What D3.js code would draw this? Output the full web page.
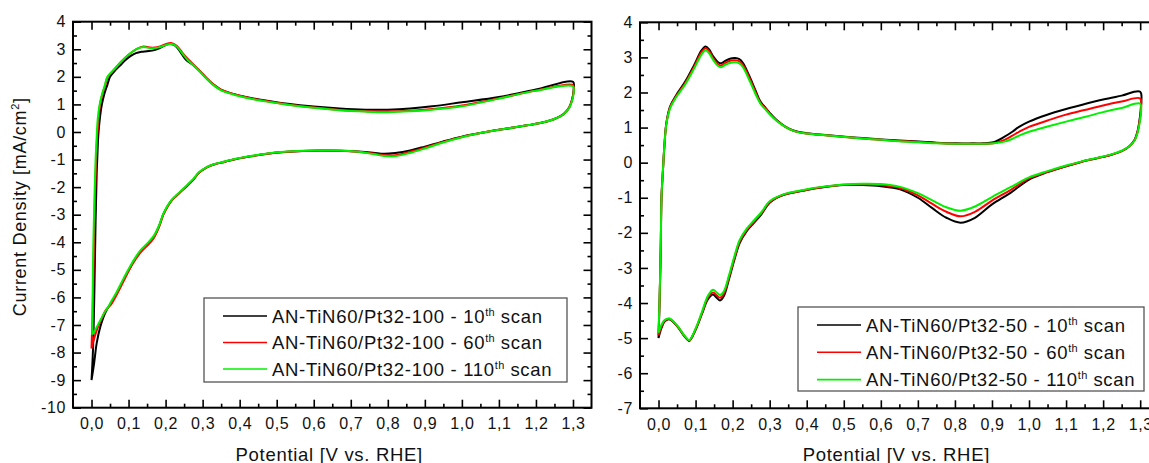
<!DOCTYPE html>
<html>
<head>
<meta charset="utf-8">
<script src="https://cdn.jsdelivr.net/npm/d3@7"></script>
<style>
  html, body { margin: 0; padding: 0; background: #fff; }
  svg { display: block; font-family: "Liberation Sans", Arial, sans-serif; }
</style>
</head>
<body>
<svg id="chart" width="1149" height="463"></svg>
<script>
// ---- Cyclic voltammograms: potential [V vs. RHE], current density [mA/cm2] ----
const xTicksMajor = [0, 0.1, 0.2, 0.3, 0.4, 0.5, 0.6, 0.7, 0.8, 0.9, 1.0, 1.1, 1.2, 1.3];
const xTicksMinor = [0.05, 0.15, 0.25, 0.35, 0.45, 0.55, 0.65, 0.75, 0.85, 0.95, 1.05, 1.15, 1.25];
const yTicksLeft = [-10, -9, -8, -7, -6, -5, -4, -3, -2, -1, 0, 1, 2, 3, 4];
const yTicksRight = [-7, -6, -5, -4, -3, -2, -1, 0, 1, 2, 3, 4];
const scanLabels = ["10", "60", "110"];
const seriesColors = ["#000000", "#ff0000", "#00f000"];

// AN-TiN60/Pt32-100
const pt100_scan10 = [
  [0.000,-9.0],[0.004,-7.9],[0.008,-5.6],[0.011,-3.2],[0.014,-1.5],[0.017,-0.45],[0.019,0.0],[0.023,0.55],
  [0.028,1.0],[0.035,1.4],[0.043,1.72],[0.050,2.0],[0.065,2.25],[0.080,2.45],[0.091,2.6],[0.105,2.75],
  [0.120,2.86],[0.135,2.91],[0.150,2.93],[0.170,2.97],[0.190,3.08],[0.210,3.2],[0.225,3.14],[0.240,2.9],
  [0.255,2.62],[0.275,2.42],[0.294,2.18],[0.310,1.95],[0.330,1.71],[0.350,1.53],[0.380,1.39],[0.420,1.26],
  [0.470,1.14],[0.530,1.02],[0.600,0.92],[0.670,0.85],[0.740,0.81],[0.800,0.81],[0.860,0.85],[0.920,0.93],
  [1.000,1.08],[1.100,1.27],[1.200,1.54],[1.300,1.82],
  [1.302,1.55],[1.298,1.2],[1.290,0.9],[1.275,0.65],[1.250,0.47],[1.220,0.35],[1.180,0.25],[1.140,0.16],
  [1.100,0.08],[1.050,-0.04],[1.000,-0.17],[0.950,-0.34],[0.900,-0.53],[0.860,-0.67],[0.820,-0.76],
  [0.790,-0.79],[0.760,-0.75],[0.720,-0.71],[0.670,-0.68],[0.620,-0.67],[0.570,-0.69],[0.520,-0.73],
  [0.470,-0.8],[0.430,-0.88],[0.390,-0.98],[0.360,-1.08],[0.330,-1.18],[0.310,-1.29],[0.290,-1.48],
  [0.275,-1.73],[0.260,-1.93],[0.246,-2.1],[0.230,-2.3],[0.217,-2.46],[0.205,-2.7],[0.194,-2.98],
  [0.182,-3.42],[0.168,-3.8],[0.150,-4.08],[0.135,-4.28],[0.120,-4.55],[0.101,-5.0],[0.087,-5.36],
  [0.068,-5.85],[0.053,-6.2],[0.039,-6.5],[0.024,-7.05],[0.014,-7.66],[0.007,-8.39],[0.000,-9.0]
];
const pt100_scan60 = [
  [0.000,-7.85],[0.003,-6.5],[0.006,-4.5],[0.009,-2.5],[0.012,-1.2],[0.015,-0.2],[0.017,0.15],[0.020,0.6],
  [0.023,1.0],[0.030,1.4],[0.037,1.7],[0.044,2.0],[0.060,2.25],[0.080,2.55],[0.100,2.8],[0.120,3.0],
  [0.140,3.1],[0.160,3.06],[0.180,3.08],[0.200,3.18],[0.215,3.23],[0.230,3.13],[0.245,2.88],[0.260,2.65],
  [0.275,2.45],[0.294,2.2],[0.310,1.97],[0.330,1.72],[0.350,1.54],[0.380,1.39],[0.420,1.25],[0.470,1.12],
  [0.530,1.0],[0.600,0.89],[0.670,0.8],[0.740,0.75],[0.800,0.74],[0.860,0.77],[0.920,0.83],[1.000,0.96],
  [1.100,1.22],[1.200,1.5],[1.300,1.7],
  [1.302,1.5],[1.298,1.2],[1.290,0.9],[1.275,0.65],[1.250,0.47],[1.220,0.35],[1.180,0.25],[1.140,0.16],
  [1.100,0.08],[1.050,-0.04],[1.000,-0.18],[0.950,-0.36],[0.900,-0.57],[0.860,-0.72],[0.820,-0.84],
  [0.790,-0.84],[0.760,-0.78],[0.720,-0.72],[0.670,-0.68],[0.620,-0.67],[0.570,-0.69],[0.520,-0.73],
  [0.470,-0.8],[0.430,-0.88],[0.390,-0.98],[0.360,-1.08],[0.330,-1.18],[0.310,-1.29],[0.290,-1.48],
  [0.275,-1.72],[0.260,-1.92],[0.246,-2.1],[0.230,-2.3],[0.217,-2.48],[0.205,-2.72],[0.194,-3.0],
  [0.182,-3.46],[0.168,-3.85],[0.150,-4.13],[0.135,-4.33],[0.120,-4.6],[0.101,-5.02],[0.087,-5.4],
  [0.068,-5.9],[0.053,-6.25],[0.039,-6.45],[0.028,-6.75],[0.018,-7.05],[0.008,-7.45],[0.000,-7.85]
];
const pt100_scan110 = [
  [0.002,-7.35],[0.003,-6.0],[0.005,-4.0],[0.008,-2.3],[0.011,-1.0],[0.0145,0.0],[0.017,0.5],[0.022,1.0],
  [0.028,1.35],[0.035,1.65],[0.043,2.0],[0.060,2.25],[0.080,2.55],[0.100,2.8],[0.120,3.0],[0.140,3.08],
  [0.160,3.04],[0.180,3.06],[0.200,3.15],[0.215,3.19],[0.230,3.1],[0.245,2.85],[0.260,2.6],[0.275,2.42],
  [0.294,2.17],[0.310,1.94],[0.330,1.69],[0.350,1.51],[0.380,1.37],[0.420,1.23],[0.470,1.11],[0.530,0.99],
  [0.600,0.88],[0.670,0.79],[0.740,0.74],[0.800,0.72],[0.860,0.75],[0.920,0.81],[1.000,0.93],[1.100,1.21],
  [1.200,1.5],[1.300,1.66],
  [1.302,1.45],[1.298,1.15],[1.290,0.88],[1.275,0.64],[1.250,0.47],[1.220,0.35],[1.180,0.25],[1.140,0.16],
  [1.100,0.08],[1.050,-0.04],[1.000,-0.19],[0.950,-0.38],[0.900,-0.6],[0.860,-0.76],[0.820,-0.88],
  [0.790,-0.87],[0.760,-0.8],[0.720,-0.72],[0.670,-0.67],[0.620,-0.66],[0.570,-0.68],[0.520,-0.72],
  [0.470,-0.79],[0.430,-0.87],[0.390,-0.97],[0.360,-1.07],[0.330,-1.17],[0.310,-1.28],[0.290,-1.46],
  [0.275,-1.7],[0.260,-1.9],[0.246,-2.08],[0.230,-2.28],[0.217,-2.45],[0.205,-2.68],[0.194,-2.96],
  [0.182,-3.4],[0.168,-3.77],[0.150,-4.05],[0.135,-4.25],[0.120,-4.52],[0.101,-4.95],[0.087,-5.3],
  [0.068,-5.8],[0.053,-6.15],[0.045,-6.35],[0.035,-6.55],[0.025,-6.8],[0.015,-7.05],[0.007,-7.25],
  [0.002,-7.35]
];

// AN-TiN60/Pt32-50
const pt50_scan10 = [
  [0.000,-5.0],[0.003,-3.9],[0.006,-2.4],[0.008,-1.0],[0.012,-0.2],[0.016,0.5],[0.021,1.12],[0.031,1.6],
  [0.048,1.93],[0.072,2.31],[0.096,2.78],[0.116,3.2],[0.127,3.31],[0.137,3.22],[0.148,3.02],[0.160,2.87],
  [0.169,2.83],[0.180,2.9],[0.195,2.97],[0.207,2.98],[0.218,2.95],[0.228,2.84],[0.246,2.45],[0.262,2.05],
  [0.275,1.74],[0.290,1.55],[0.300,1.42],[0.318,1.22],[0.342,1.03],[0.366,0.91],[0.400,0.84],[0.450,0.79],
  [0.503,0.74],[0.550,0.7],[0.602,0.66],[0.650,0.63],[0.703,0.6],[0.750,0.57],[0.804,0.55],[0.850,0.55],
  [0.877,0.55],[0.904,0.58],[0.934,0.74],[0.955,0.88],[0.973,1.02],[1.000,1.17],[1.047,1.36],[1.100,1.53],
  [1.150,1.67],[1.200,1.8],[1.250,1.91],[1.300,2.02],
  [1.302,1.6],[1.298,1.2],[1.293,0.9],[1.285,0.65],[1.270,0.46],[1.250,0.33],[1.220,0.22],[1.180,0.12],
  [1.140,0.02],[1.100,-0.1],[1.050,-0.27],[1.000,-0.48],[0.950,-0.86],[0.900,-1.19],[0.854,-1.57],
  [0.815,-1.71],[0.777,-1.57],[0.738,-1.29],[0.700,-1.0],[0.652,-0.76],[0.600,-0.67],[0.550,-0.64],
  [0.500,-0.64],[0.440,-0.71],[0.400,-0.78],[0.335,-0.93],[0.300,-1.14],[0.277,-1.48],[0.258,-1.71],
  [0.238,-1.95],[0.219,-2.29],[0.205,-2.76],[0.190,-3.33],[0.176,-3.81],[0.166,-3.93],[0.157,-3.85],
  [0.147,-3.76],[0.133,-3.9],[0.118,-4.29],[0.104,-4.67],[0.089,-5.0],[0.083,-5.08],[0.070,-4.95],
  [0.051,-4.67],[0.029,-4.46],[0.017,-4.52],[0.008,-4.71],[0.000,-5.0]
];
const pt50_scan60 = [
  [0.000,-4.92],[0.003,-3.85],[0.006,-2.4],[0.008,-1.0],[0.012,-0.2],[0.016,0.5],[0.021,1.1],[0.031,1.57],
  [0.048,1.9],[0.072,2.27],[0.096,2.73],[0.116,3.15],[0.127,3.26],[0.137,3.17],[0.148,2.97],[0.160,2.81],
  [0.169,2.77],[0.180,2.84],[0.195,2.91],[0.207,2.92],[0.218,2.89],[0.228,2.78],[0.246,2.4],[0.262,2.0],
  [0.275,1.71],[0.290,1.53],[0.300,1.4],[0.318,1.21],[0.342,1.02],[0.366,0.9],[0.400,0.83],[0.450,0.78],
  [0.503,0.73],[0.550,0.69],[0.602,0.65],[0.650,0.62],[0.703,0.59],[0.750,0.56],[0.804,0.54],[0.850,0.54],
  [0.877,0.54],[0.904,0.55],[0.934,0.65],[0.955,0.77],[0.973,0.88],[1.000,1.02],[1.050,1.2],[1.100,1.37],
  [1.150,1.5],[1.200,1.63],[1.250,1.74],[1.300,1.83],
  [1.302,1.5],[1.298,1.15],[1.293,0.88],[1.285,0.64],[1.270,0.46],[1.250,0.33],[1.220,0.22],[1.180,0.12],
  [1.140,0.02],[1.100,-0.1],[1.050,-0.26],[1.000,-0.45],[0.950,-0.78],[0.900,-1.08],[0.854,-1.4],
  [0.815,-1.53],[0.777,-1.4],[0.738,-1.17],[0.700,-0.93],[0.652,-0.72],[0.600,-0.64],[0.550,-0.62],
  [0.500,-0.63],[0.440,-0.7],[0.400,-0.77],[0.335,-0.92],[0.300,-1.12],[0.277,-1.45],[0.258,-1.68],
  [0.238,-1.92],[0.219,-2.25],[0.205,-2.71],[0.190,-3.27],[0.176,-3.74],[0.166,-3.85],[0.157,-3.78],
  [0.147,-3.7],[0.133,-3.85],[0.118,-4.26],[0.104,-4.65],[0.089,-4.99],[0.083,-5.07],[0.070,-4.94],
  [0.051,-4.66],[0.029,-4.45],[0.017,-4.5],[0.008,-4.67],[0.000,-4.92]
];
const pt50_scan110 = [
  [0.000,-4.85],[0.003,-3.8],[0.006,-2.4],[0.008,-1.0],[0.012,-0.2],[0.016,0.5],[0.021,1.08],[0.031,1.54],
  [0.048,1.87],[0.072,2.23],[0.096,2.68],[0.116,3.08],[0.127,3.2],[0.137,3.11],[0.148,2.92],[0.160,2.76],
  [0.169,2.72],[0.180,2.79],[0.195,2.85],[0.207,2.86],[0.218,2.83],[0.228,2.72],[0.246,2.33],[0.262,1.95],
  [0.275,1.68],[0.290,1.5],[0.300,1.38],[0.318,1.2],[0.342,1.02],[0.366,0.9],[0.400,0.83],[0.450,0.78],
  [0.503,0.73],[0.550,0.69],[0.602,0.65],[0.650,0.61],[0.703,0.58],[0.750,0.55],[0.804,0.54],[0.850,0.54],
  [0.877,0.54],[0.904,0.55],[0.934,0.6],[0.955,0.68],[0.973,0.77],[1.000,0.88],[1.050,1.03],[1.100,1.17],
  [1.150,1.3],[1.200,1.44],[1.250,1.56],[1.300,1.68],
  [1.302,1.4],[1.298,1.1],[1.293,0.85],[1.285,0.63],[1.270,0.46],[1.250,0.34],[1.220,0.23],[1.180,0.13],
  [1.140,0.03],[1.100,-0.08],[1.050,-0.24],[1.000,-0.42],[0.950,-0.7],[0.900,-0.98],[0.854,-1.25],
  [0.815,-1.37],[0.777,-1.27],[0.738,-1.07],[0.700,-0.87],[0.652,-0.69],[0.600,-0.61],[0.550,-0.6],
  [0.500,-0.62],[0.440,-0.69],[0.400,-0.76],[0.335,-0.91],[0.300,-1.1],[0.277,-1.42],[0.258,-1.64],
  [0.238,-1.88],[0.219,-2.2],[0.205,-2.66],[0.190,-3.22],[0.176,-3.67],[0.166,-3.77],[0.157,-3.7],
  [0.147,-3.62],[0.133,-3.8],[0.118,-4.23],[0.104,-4.63],[0.089,-4.98],[0.083,-5.06],[0.070,-4.93],
  [0.051,-4.65],[0.029,-4.44],[0.017,-4.48],[0.008,-4.62],[0.000,-4.85]
];

const panels = [
  {
    id: "pt100", sample: "AN-TiN60/Pt32-100",
    series: [pt100_scan10, pt100_scan60, pt100_scan110],
    yDomain: [-10, 4], yTicks: yTicksLeft,
    box: { left: 73, right: 591.5, top: 21.7, bottom: 407.7 },
    legend: { left: 204, top: 298, width: 363, height: 84, rowGap: 26.5 },
    yTitle: true
  },
  {
    id: "pt50", sample: "AN-TiN60/Pt32-50",
    series: [pt50_scan10, pt50_scan60, pt50_scan110],
    yDomain: [-7, 4], yTicks: yTicksRight,
    box: { left: 640, right: 1158.7, top: 22.3, bottom: 408.3 },
    legend: { left: 798, top: 307, width: 346, height: 84, rowGap: 27.3 },
    yTitle: false
  }
];

const svg = d3.select("#chart");
const commaFmt = d => d.toFixed(1).replace(".", ",");
const intFmt = d => String(d);
const fontStack = '"Liberation Sans", Arial, sans-serif';

panels.forEach((p, pi) => {
  const b = p.box;
  const x = d3.scaleLinear().domain([-0.05, 1.35]).range([b.left, b.right]);
  const y = d3.scaleLinear().domain(p.yDomain).range([b.bottom, b.top]);
  const g = svg.append("g").attr("class", "panel-" + p.id);

  const yMinor = d3.range(p.yDomain[0] + 0.5, p.yDomain[1], 1);

  const styleAxis = sel => {
    sel.select(".domain").remove();
    sel.selectAll(".tick line").attr("stroke", "#000").attr("stroke-width", 1.6);
    sel.selectAll(".tick text")
      .attr("fill", "#111")
      .style("font-family", fontStack)
      .style("font-size", "16px")
      .style("letter-spacing", "0.6px");
  };

  // bottom axis (inward ticks, comma decimals)
  g.append("g").attr("transform", `translate(0,${b.bottom})`)
    .call(d3.axisBottom(x).tickValues(xTicksMajor).tickSizeInner(-8).tickSizeOuter(0)
      .tickPadding(10).tickFormat(commaFmt))
    .call(styleAxis);
  g.append("g").attr("transform", `translate(0,${b.bottom})`)
    .call(d3.axisBottom(x).tickValues(xTicksMinor).tickSizeInner(-4).tickSizeOuter(0).tickFormat(""))
    .call(styleAxis);
  // top mirror axis
  g.append("g").attr("transform", `translate(0,${b.top})`)
    .call(d3.axisTop(x).tickValues(xTicksMajor).tickSizeInner(-8).tickSizeOuter(0).tickFormat(""))
    .call(styleAxis);
  g.append("g").attr("transform", `translate(0,${b.top})`)
    .call(d3.axisTop(x).tickValues(xTicksMinor).tickSizeInner(-4).tickSizeOuter(0).tickFormat(""))
    .call(styleAxis);
  // left axis
  g.append("g").attr("transform", `translate(${b.left},0)`)
    .call(d3.axisLeft(y).tickValues(p.yTicks).tickSizeInner(-8).tickSizeOuter(0)
      .tickPadding(7).tickFormat(intFmt))
    .call(styleAxis);
  g.append("g").attr("transform", `translate(${b.left},0)`)
    .call(d3.axisLeft(y).tickValues(yMinor).tickSizeInner(-4).tickSizeOuter(0).tickFormat(""))
    .call(styleAxis);
  // right mirror axis
  g.append("g").attr("transform", `translate(${b.right},0)`)
    .call(d3.axisRight(y).tickValues(p.yTicks).tickSizeInner(-8).tickSizeOuter(0).tickFormat(""))
    .call(styleAxis);
  g.append("g").attr("transform", `translate(${b.right},0)`)
    .call(d3.axisRight(y).tickValues(yMinor).tickSizeInner(-4).tickSizeOuter(0).tickFormat(""))
    .call(styleAxis);

  // plot clip
  const clipId = "clip-" + p.id;
  svg.append("defs").append("clipPath").attr("id", clipId)
    .append("rect").attr("x", b.left).attr("y", b.top)
    .attr("width", b.right - b.left).attr("height", b.bottom - b.top);

  const line = d3.line()
    .x(d => x(d[0])).y(d => y(d[1]))
    .curve(d3.curveCatmullRom.alpha(0.5));

  const curves = g.append("g").attr("clip-path", `url(#${clipId})`);
  p.series.forEach((s, si) => {
    curves.append("path")
      .datum(s)
      .attr("d", line)
      .attr("fill", "none")
      .attr("stroke", seriesColors[si])
      .attr("stroke-width", 2)
      .attr("stroke-linejoin", "round");
  });

  // frame
  g.append("rect")
    .attr("x", b.left).attr("y", b.top)
    .attr("width", b.right - b.left).attr("height", b.bottom - b.top)
    .attr("fill", "none").attr("stroke", "#000").attr("stroke-width", 2);

  // legend
  const L = p.legend;
  const lg = g.append("g").attr("transform", `translate(${L.left},${L.top})`);
  lg.append("rect").attr("width", L.width).attr("height", L.height)
    .attr("fill", "#fff").attr("stroke", "#555").attr("stroke-width", 1.3);
  scanLabels.forEach((sc, i) => {
    const cy = 18 + i * L.rowGap;
    lg.append("line").attr("x1", 19).attr("x2", 63).attr("y1", cy).attr("y2", cy)
      .attr("stroke", seriesColors[i]).attr("stroke-width", 1.6);
    const t = lg.append("text").attr("x", 68).attr("y", cy + 6.5)
      .attr("fill", "#111")
      .style("font-family", fontStack).style("font-size", "18.5px").style("letter-spacing", "0.7px");
    t.append("tspan").text(`${p.sample} - ${sc}`);
    t.append("tspan").attr("dy", -7).style("font-size", "11px").style("letter-spacing", "0.3px").text("th");
    t.append("tspan").attr("dy", 7).text(" scan");
  });

  // axis titles
  g.append("text")
    .attr("x", (x(0) + x(1.3)) / 2 - 3).attr("y", 461)
    .attr("text-anchor", "middle").attr("fill", "#111")
    .style("font-family", fontStack).style("font-size", "18.5px").style("letter-spacing", "0.7px")
    .text("Potential [V vs. RHE]");

  if (p.yTitle) {
    const yt = g.append("text")
      .attr("transform", `translate(26,${(b.top + b.bottom) / 2 - 8}) rotate(-90)`)
      .attr("text-anchor", "middle").attr("fill", "#111")
      .style("font-family", fontStack).style("font-size", "18px").style("letter-spacing", "0.7px");
    yt.append("tspan").text("Current Density [mA/cm");
    yt.append("tspan").attr("dy", -7).style("font-size", "11px").text("2");
    yt.append("tspan").attr("dy", 7).text("]");
  }
});
</script>
</body>
</html>
